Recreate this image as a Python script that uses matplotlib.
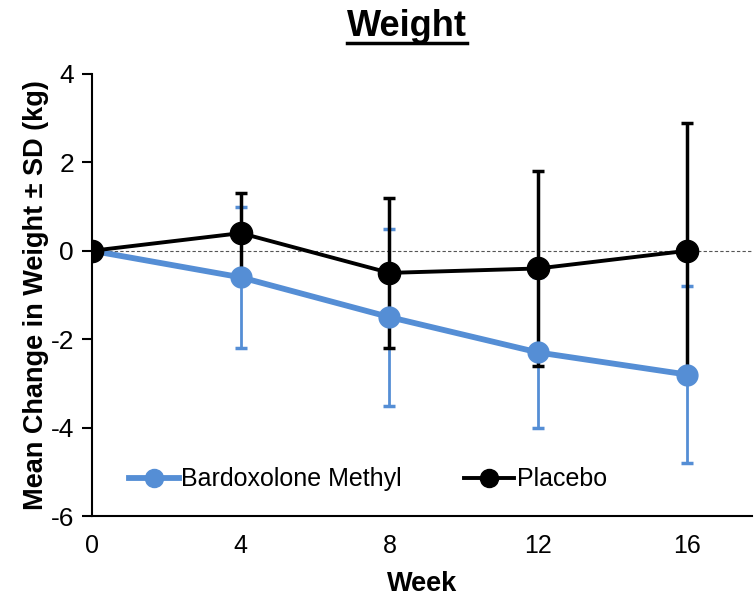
import matplotlib.pyplot as plt
from matplotlib.lines import Line2D

plt.rcParams['font.family'] = ['Liberation Sans', 'DejaVu Sans']
plt.rcParams['axes.unicode_minus'] = False

# Study data: mean change in weight (kg) with SD, by week
weeks = [0, 4, 8, 12, 16]
bard_mean = [0, -0.6, -1.5, -2.3, -2.8]
bard_sd = [0, 1.6, 2.0, 1.7, 2.0]
placebo_mean = [0, 0.4, -0.5, -0.4, 0.0]
placebo_sd = [0, 0.9, 1.7, 2.2, 2.9]

blue = '#558ED5'

fig = plt.figure(figsize=(7.55, 5.98), dpi=100)
ax = fig.add_axes([0.1219, 0.1371, 0.8741, 0.7392])

ax.axhline(0, color='#555555', lw=0.8, ls=(0, (3, 2)), zorder=1)

# error bars first, blue under black
ax.errorbar(weeks, bard_mean, yerr=bard_sd, fmt='none', ecolor=blue,
            elinewidth=2, capsize=4, capthick=2.5, zorder=2)
ax.errorbar(weeks, placebo_mean, yerr=placebo_sd, fmt='none', ecolor='black',
            elinewidth=2.5, capsize=4, capthick=2.5, zorder=3)
ax.plot(weeks, bard_mean, color=blue, lw=4.2, marker='o', ms=15,
        label='Bardoxolone Methyl', zorder=4)
ax.plot(weeks, placebo_mean, color='black', lw=2.8, marker='o', ms=16,
        label='Placebo', zorder=5)

ax.set_xlim(0, 17.75)
ax.set_ylim(-6, 4)
ax.set_xticks(weeks)
ax.set_yticks([-6, -4, -2, 0, 2, 4])
ax.tick_params(axis='y', labelsize=19, width=1.5, length=7, pad=6)
ax.tick_params(axis='x', labelsize=18, length=0, pad=13)
for s in ['top', 'right']:
    ax.spines[s].set_visible(False)
for s in ['left', 'bottom']:
    ax.spines[s].set_linewidth(1.5)

ax.set_xlabel('Week', fontsize=19.5, fontweight='bold', labelpad=9)
ax.set_ylabel('Mean Change in Weight ± SD (kg)', fontsize=19.5, fontweight='bold',
              labelpad=1)

leg_handles = [
    Line2D([], [], color=blue, lw=4.2, marker='o', ms=13),
    Line2D([], [], color='black', lw=2.8, marker='o', ms=13),
]
ax.legend(leg_handles, ['Bardoxolone Methyl', 'Placebo'], loc='center',
          bbox_to_anchor=(0.418, 0.083), ncol=2, frameon=False, fontsize=18,
          handlelength=2.0, handletextpad=0.1, columnspacing=2.5)

# underlined title
title = fig.text(407 / 755, 1 - 26 / 598, 'Weight', ha='center', va='center',
                 fontsize=26, fontweight='bold')
fig.canvas.draw()
bb = title.get_window_extent().transformed(fig.transFigure.inverted())
fig.add_artist(Line2D([bb.x0, bb.x1], [1 - 43 / 598, 1 - 43 / 598],
                      color='black', lw=2.5, transform=fig.transFigure))

fig.savefig('out.png', dpi=100)
